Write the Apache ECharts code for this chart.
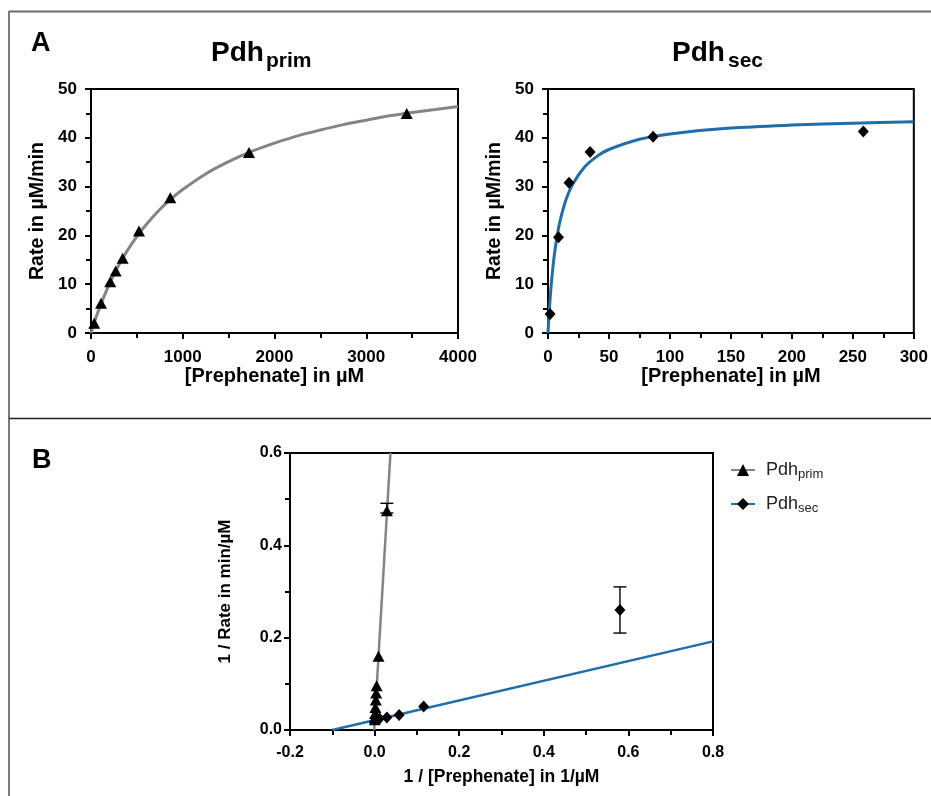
<!DOCTYPE html>
<html>
<head>
<meta charset="utf-8">
<script src="https://cdn.jsdelivr.net/npm/echarts@6/dist/echarts.min.js"></script>
<style>
  html, body { margin: 0; padding: 0; background: #fff; }
  #chart { width: 931px; height: 796px; }
</style>
</head>
<body>
<div id="chart"></div>
<script>
// ---------- DATA ----------
// Panel A, Pdh_prim (Michaelis–Menten plot)
var primConc = [35, 109, 210, 269, 345, 523, 864, 1722, 3441];
var primRate = [2.0, 6.1, 10.5, 12.7, 15.3, 20.9, 27.7, 37.0, 45.0];
var primCurveX = [0, 50, 100, 200, 300, 400, 500, 600, 750, 850, 1000, 1250, 1500, 1750, 2000, 2250, 2500, 2750, 3000, 3250, 3500, 3750, 4000];
var primCurveY = [0, 2.9, 5.5, 10.0, 13.8, 17.0, 19.8, 22.2, 25.3, 27.1, 29.4, 32.6, 35.1, 37.2, 38.9, 40.4, 41.6, 42.7, 43.6, 44.5, 45.2, 45.8, 46.4];

// Panel A, Pdh_sec
var secConc = [1.72, 8.6, 17.2, 34.5, 86.2, 258.6];
var secRate = [3.9, 19.6, 30.8, 37.1, 40.2, 41.3];
var secCurveX = [0, 0.5, 1, 2, 3, 5, 7.5, 10, 15, 20, 30, 40, 50, 75, 100, 150, 200, 250, 300];
var secCurveY = [0, 2.3, 4.3, 7.9, 10.9, 15.6, 19.9, 23.1, 27.5, 30.4, 34.0, 36.2, 37.6, 39.7, 40.8, 42.0, 42.6, 43.0, 43.3];

// Panel B, Lineweaver–Burk
var lbPrimX = [0.029, 0.0093, 0.0048, 0.0037, 0.0029, 0.0019, 0.0012, 0.0006, 0.0003];
var lbPrimY = [0.475, 0.160, 0.096, 0.080, 0.065, 0.049, 0.036, 0.027, 0.022];
var lbSecX = [0.58, 0.116, 0.058, 0.029, 0.0116, 0.0039];
var lbSecY = [0.26, 0.051, 0.0325, 0.027, 0.025, 0.024];
var lbPrimLineX = [-0.001, 0.0375];
var lbPrimLineY = [0, 0.6];
var lbSecLineX = [-0.1, 0.8];
var lbSecLineY = [0, 0.192];
// error bars: [x, low, high]
var lbErrX = [0.029, 0.58];
var lbErrLow = [0.47, 0.21];
var lbErrHigh = [0.491, 0.31];

// tick settings
var axA1X = { min: 0, max: 4000, interval: 1000 };
var axA2X = { min: 0, max: 300, interval: 50 };
var axAY = { min: 0, max: 50, interval: 10 };
var axBX = { min: -0.2, max: 0.8, interval: 0.2 };
var axBY = { min: 0, max: 0.6, interval: 0.2 };

var legendNames = ['Pdh_prim', 'Pdh_sec'];

// ---------- CHART ----------
var FONT = 'Liberation Sans, Arial, Helvetica, sans-serif';
var GRAY = '#7f858b';
var BLUE = '#1f6ea8';

function zip(a, b) { return a.map(function (v, i) { return [v, b[i]]; }); }

function makeAxis(range, opts) {
  var o = {
    type: 'value',
    min: range.min, max: range.max, interval: range.interval,
    axisLine: { show: true, onZero: false, lineStyle: { color: '#000', width: 2 } },
    axisTick: { show: true, inside: false, length: 6, lineStyle: { color: '#000', width: 2 } },
    minorTick: { show: true, splitNumber: 2, length: 5, lineStyle: { color: '#000', width: 2 } },
    splitLine: { show: false },
    minorSplitLine: { show: false },
    axisLabel: { color: '#000', fontWeight: 'bold', fontSize: opts.labelSize, fontFamily: FONT, margin: opts.margin,
      formatter: opts.fmt || function (v) { return String(Math.round(v)); } },
    name: opts.name,
    nameLocation: 'middle',
    nameGap: opts.nameGap,
    nameTextStyle: { color: '#000', fontWeight: 'bold', fontSize: opts.nameSize, fontFamily: FONT }
  };
  if (opts.gridIndex !== undefined) o.gridIndex = opts.gridIndex;
  return o;
}
function fmt1(v) { return (Math.round(v * 10) / 10).toFixed(1); }

var chart = echarts.init(document.getElementById('chart'), null, { renderer: 'canvas' });

var gridStyle = { show: true, borderColor: '#000', borderWidth: 2, backgroundColor: 'transparent', containLabel: false };

var option = {
  animation: false,
  backgroundColor: '#fff',
  textStyle: { fontFamily: FONT },
  grid: [
    Object.assign({ left: 91, top: 89, width: 367, height: 244 }, gridStyle),
    Object.assign({ left: 548, top: 89, width: 367, height: 244 }, gridStyle),
    Object.assign({ left: 290, top: 453, width: 423, height: 277 }, gridStyle)
  ],
  xAxis: [
    makeAxis(axA1X, { gridIndex: 0, labelSize: 17, margin: 16, name: '[Prephenate] in µM', nameGap: 32, nameSize: 20 }),
    makeAxis(axA2X, { gridIndex: 1, labelSize: 17, margin: 16, name: '[Prephenate] in µM', nameGap: 32, nameSize: 20 }),
    makeAxis(axBX, { gridIndex: 2, labelSize: 16, margin: 15, name: '1 / [Prephenate] in 1/µM', nameGap: 38, nameSize: 17.5, fmt: fmt1 })
  ],
  yAxis: [
    makeAxis(axAY, { gridIndex: 0, labelSize: 17, margin: 14, name: 'Rate in µM/min', nameGap: 43, nameSize: 19.5 }),
    makeAxis(axAY, { gridIndex: 1, labelSize: 17, margin: 14, name: 'Rate in µM/min', nameGap: 43, nameSize: 19.5 }),
    makeAxis(axBY, { gridIndex: 2, labelSize: 16, margin: 8, name: '1 / Rate in min/µM', nameGap: 56, nameSize: 17, fmt: fmt1 })
  ],
  legend: {
    orient: 'vertical',
    left: 730, top: 461, padding: 0,
    itemWidth: 24, itemHeight: 15, itemGap: 14,
    data: legendNames,
    selectedMode: false,
    formatter: function (n) { var p = n.split('_'); return '{a|' + p[0] + '}{b|' + p[1] + '}'; },
    textStyle: {
      color: '#222', fontFamily: FONT, padding: [0, 0, 0, 6],
      rich: {
        a: { fontSize: 18, lineHeight: 22, fontFamily: FONT, color: '#222' },
        b: { fontSize: 13, lineHeight: 12, verticalAlign: 'bottom', fontFamily: FONT, color: '#222' }
      }
    }
  },
  graphic: [
    // frame
    { type: 'line', silent: true, shape: { x1: 9, y1: 11, x2: 9, y2: 796 }, style: { stroke: '#7a7a7a', lineWidth: 2 } },
    { type: 'line', silent: true, shape: { x1: 9, y1: 11.5, x2: 931, y2: 11.5 }, style: { stroke: '#6a6a6a', lineWidth: 2 } },
    { type: 'line', silent: true, shape: { x1: 9, y1: 418.5, x2: 931, y2: 418.5 }, style: { stroke: '#222', lineWidth: 1.5 } },
    // panel letters
    { type: 'text', silent: true, style: { text: 'A', x: 31, y: 44, font: 'bold 27px ' + FONT, fill: '#000', verticalAlign: 'middle', align: 'left' } },
    { type: 'text', silent: true, style: { text: 'B', x: 32, y: 461, font: 'bold 27px ' + FONT, fill: '#000', verticalAlign: 'middle', align: 'left' } },
    // titles
    { type: 'text', silent: true, style: { text: 'Pdh', x: 211, y: 53.5, font: 'bold 28px ' + FONT, fill: '#000', verticalAlign: 'middle', align: 'left' } },
    { type: 'text', silent: true, style: { text: 'prim', x: 266, y: 61, font: 'bold 21px ' + FONT, fill: '#000', verticalAlign: 'middle', align: 'left' } },
    { type: 'text', silent: true, style: { text: 'Pdh', x: 672, y: 53.5, font: 'bold 28px ' + FONT, fill: '#000', verticalAlign: 'middle', align: 'left' } },
    { type: 'text', silent: true, style: { text: 'sec', x: 728, y: 61, font: 'bold 21px ' + FONT, fill: '#000', verticalAlign: 'middle', align: 'left' } }
  ],
  series: [
    // Panel A left
    { type: 'line', xAxisIndex: 0, yAxisIndex: 0, data: zip(primCurveX, primCurveY), smooth: 0.3, symbol: 'none',
      lineStyle: { color: GRAY, width: 3 }, z: 2, silent: true },
    { type: 'scatter', xAxisIndex: 0, yAxisIndex: 0, data: zip(primConc, primRate), symbol: 'triangle', symbolSize: [12, 11],
      itemStyle: { color: '#000', opacity: 1 }, z: 3 },
    // Panel A right
    { type: 'line', xAxisIndex: 1, yAxisIndex: 1, data: zip(secCurveX, secCurveY), smooth: 0.3, symbol: 'none',
      lineStyle: { color: BLUE, width: 3 }, z: 2, silent: true },
    { type: 'scatter', xAxisIndex: 1, yAxisIndex: 1, data: zip(secConc, secRate), symbol: 'diamond', symbolSize: [11, 12],
      itemStyle: { color: '#000', opacity: 1 }, z: 3 },
    // Panel B lines
    { type: 'line', xAxisIndex: 2, yAxisIndex: 2, data: zip(lbPrimLineX, lbPrimLineY), symbol: 'none',
      lineStyle: { color: GRAY, width: 2.5 }, z: 2, silent: true },
    { type: 'line', xAxisIndex: 2, yAxisIndex: 2, data: zip(lbSecLineX, lbSecLineY), symbol: 'none',
      lineStyle: { color: BLUE, width: 2.5 }, z: 2, silent: true },
    // error bars
    { type: 'custom', xAxisIndex: 2, yAxisIndex: 2, z: 3, silent: true,
      data: lbErrX.map(function (x, i) { return [x, lbErrLow[i], lbErrHigh[i]]; }),
      renderItem: function (params, api) {
        var lo = api.coord([api.value(0), api.value(1)]);
        var hi = api.coord([api.value(0), api.value(2)]);
        var w = 6.5;
        var st = { stroke: '#000', lineWidth: 1.4 };
        return { type: 'group', children: [
          { type: 'line', shape: { x1: lo[0], y1: lo[1], x2: hi[0], y2: hi[1] }, style: st },
          { type: 'line', shape: { x1: lo[0] - w, y1: lo[1], x2: lo[0] + w, y2: lo[1] }, style: st },
          { type: 'line', shape: { x1: hi[0] - w, y1: hi[1], x2: hi[0] + w, y2: hi[1] }, style: st }
        ] };
      }
    },
    // Panel B points
    { type: 'scatter', xAxisIndex: 2, yAxisIndex: 2, data: zip(lbPrimX, lbPrimY), symbol: 'triangle', symbolSize: [12, 11],
      itemStyle: { color: '#000', opacity: 1 }, z: 4 },
    { type: 'scatter', xAxisIndex: 2, yAxisIndex: 2, data: zip(lbSecX, lbSecY), symbol: 'diamond', symbolSize: [11, 12],
      itemStyle: { color: '#000', opacity: 1 }, z: 4 },
    // legend entries
    { name: legendNames[0], type: 'line', xAxisIndex: 2, yAxisIndex: 2, data: [], symbol: 'triangle', symbolSize: 12,
      lineStyle: { color: GRAY, width: 3.5 }, itemStyle: { color: '#000', opacity: 1 } },
    { name: legendNames[1], type: 'line', xAxisIndex: 2, yAxisIndex: 2, data: [], symbol: 'diamond', symbolSize: 11,
      lineStyle: { color: BLUE, width: 3.5 }, itemStyle: { color: '#000', opacity: 1 } }
  ]
};
chart.setOption(option);
</script>
</body>
</html>
